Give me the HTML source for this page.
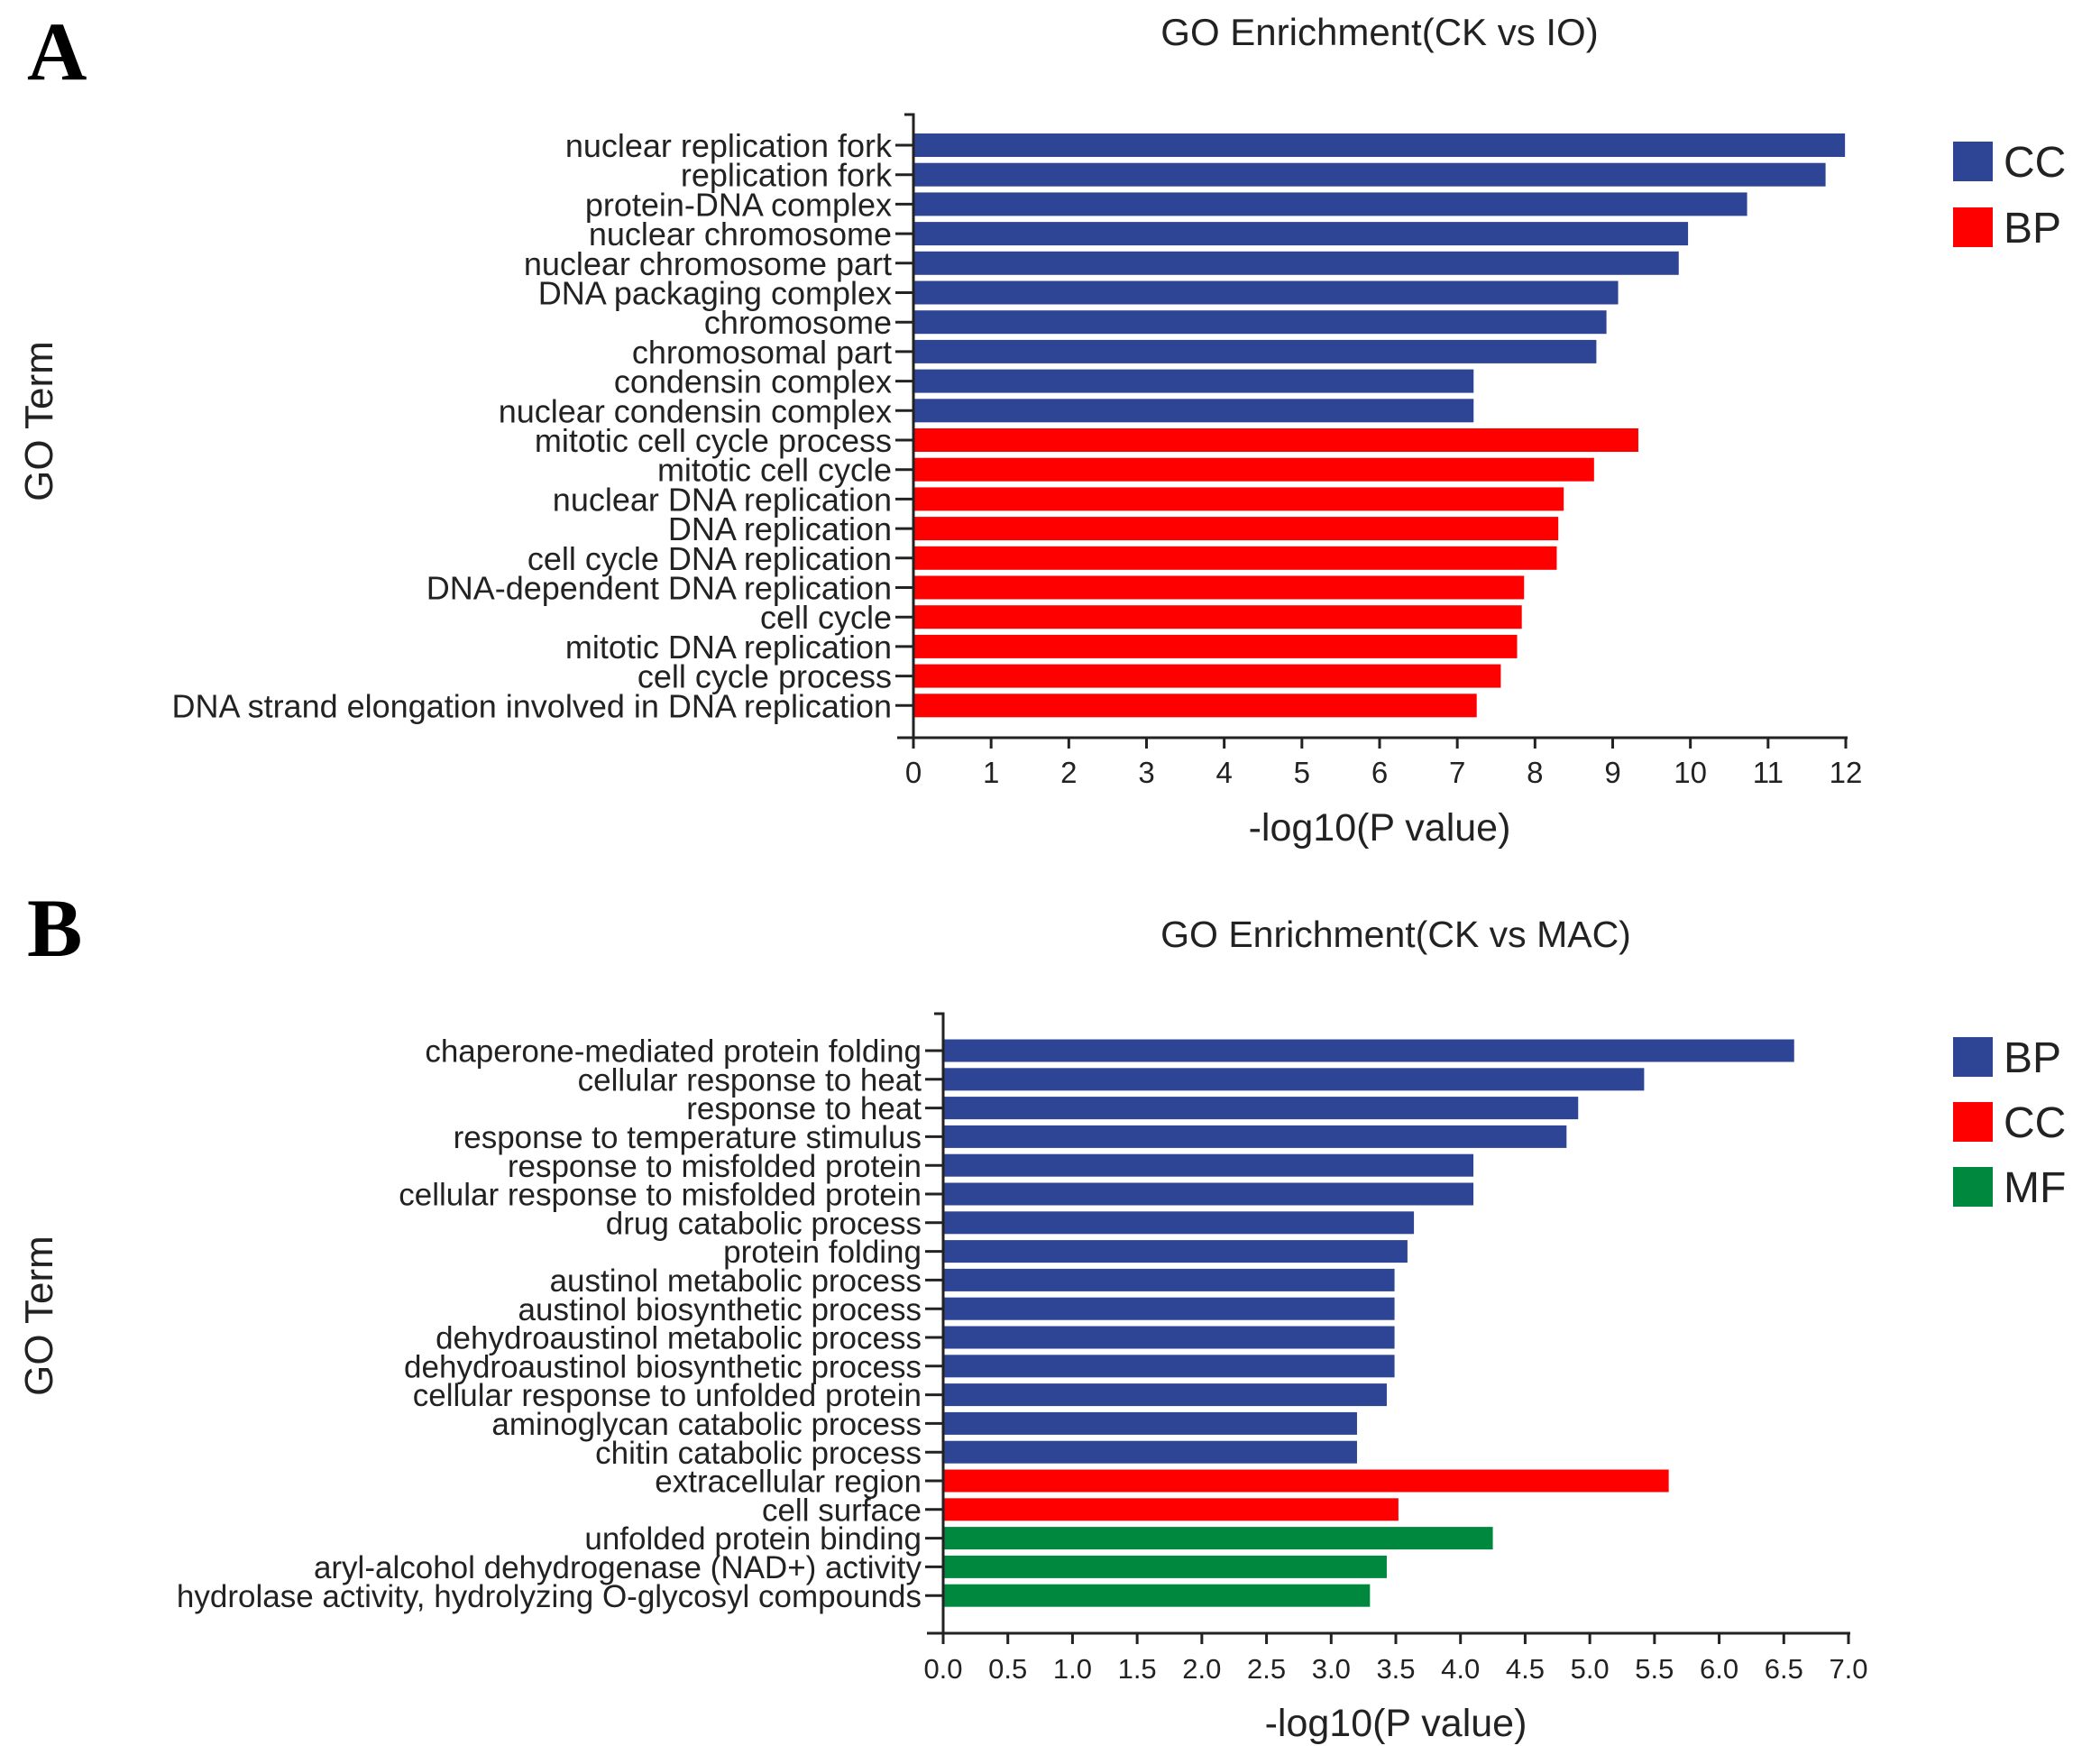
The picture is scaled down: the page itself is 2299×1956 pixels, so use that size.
<!DOCTYPE html>
<html><head><meta charset="utf-8"><style>
html,body{margin:0;padding:0;background:#fff;}
svg{display:block;}
text{font-family:"Liberation Sans",Arial,sans-serif;fill:#222;}
</style></head><body>
<svg id="fig" width="2299" height="1956" viewBox="0 0 2299 1956" xmlns="http://www.w3.org/2000/svg">
<text x="30" y="88" style="font-family:'Liberation Serif',serif;font-weight:bold;font-size:92px;fill:#000">A</text>
<text x="30" y="1060" style="font-family:'Liberation Serif',serif;font-weight:bold;font-size:92px;fill:#000">B</text>
<g id="panelA"></g>
<g id="panelB"></g>
</svg>
<script>
const catsA = ["nuclear replication fork","replication fork","protein-DNA complex","nuclear chromosome","nuclear chromosome part","DNA packaging complex","chromosome","chromosomal part","condensin complex","nuclear condensin complex","mitotic cell cycle process","mitotic cell cycle","nuclear DNA replication","DNA replication","cell cycle DNA replication","DNA-dependent DNA replication","cell cycle","mitotic DNA replication","cell cycle process","DNA strand elongation involved in DNA replication"];
const valsA = [11.99,11.74,10.73,9.97,9.85,9.07,8.92,8.79,7.21,7.21,9.33,8.76,8.37,8.30,8.28,7.86,7.83,7.77,7.56,7.25];
const groupsA = ["CC","CC","CC","CC","CC","CC","CC","CC","CC","CC","BP","BP","BP","BP","BP","BP","BP","BP","BP","BP"];
const ticksA = ["0","1","2","3","4","5","6","7","8","9","10","11","12"];
const legendA = ["CC","BP"];

const catsB = ["chaperone-mediated protein folding","cellular response to heat","response to heat","response to temperature stimulus","response to misfolded protein","cellular response to misfolded protein","drug catabolic process","protein folding","austinol metabolic process","austinol biosynthetic process","dehydroaustinol metabolic process","dehydroaustinol biosynthetic process","cellular response to unfolded protein","aminoglycan catabolic process","chitin catabolic process","extracellular region","cell surface","unfolded protein binding","aryl-alcohol dehydrogenase (NAD+) activity","hydrolase activity, hydrolyzing O-glycosyl compounds"];
const valsB = [6.58,5.42,4.91,4.82,4.10,4.10,3.64,3.59,3.49,3.49,3.49,3.49,3.43,3.20,3.20,5.61,3.52,4.25,3.43,3.30];
const groupsB = ["BP","BP","BP","BP","BP","BP","BP","BP","BP","BP","BP","BP","BP","BP","BP","CC","CC","MF","MF","MF"];
const ticksB = ["0.0","0.5","1.0","1.5","2.0","2.5","3.0","3.5","4.0","4.5","5.0","5.5","6.0","6.5","7.0"];
const legendB = ["BP","CC","MF"];

const NS="http://www.w3.org/2000/svg";
function mk(parent,tag,attrs,txt){const e=document.createElementNS(NS,tag);for(const k in attrs)e.setAttribute(k,attrs[k]);if(txt!==undefined)e.textContent=txt;parent.appendChild(e);return e;}

function drawPanel(g,cfg){
  const {cats,vals,groups,ticks,legend,colors,x0,x1,xmax,yTop,y1,yStep,barH,axisY,title,titleX,titleY,titleSize,labelSize,tickSize,legX,legY,legStep,goX,goY,xTitleY} = cfg;
  const sx=v=>x0+(x1-x0)*v/xmax;
  const sy=i=>y1+i*yStep;
  let t=mk(g,'text',{x:titleX,y:titleY,'text-anchor':'middle','font-size':titleSize});
  t.textContent=title;
  
  
  for(let i=0;i<cats.length;i++){
    const r=mk(g,'rect',{x:x0,y:sy(i)-barH/2,width:sx(vals[i])-x0,height:barH,fill:colors[groups[i]]});
    
    
    const tk=mk(g,'line',{x1:x0-20,x2:x0,y1:sy(i),y2:sy(i),stroke:'#222','stroke-width':3});
    
    
    const l=mk(g,'text',{x:x0-24,y:sy(i)+labelSize*0.36,'text-anchor':'end','font-size':labelSize},cats[i]);
    
    
  }
  const ya=mk(g,'path',{d:`M${x0-10} ${yTop} H${x0} V${axisY}`,stroke:'#222','stroke-width':3,fill:'none'});
  
  
  const xa=mk(g,'line',{x1:x0-18,x2:x1+2,y1:axisY,y2:axisY,stroke:'#222','stroke-width':3});
  
  
  for(let k=0;k<ticks.length;k++){
    const v=parseFloat(ticks[k]);
    const tk=mk(g,'line',{x1:sx(v),x2:sx(v),y1:axisY,y2:axisY+12,stroke:'#222','stroke-width':3});
    
    
    const tl=mk(g,'text',{x:sx(v),y:axisY+50,'text-anchor':'middle','font-size':tickSize},ticks[k]);
    
    
  }
  const xt=mk(g,'text',{x:(x0+x1)/2,y:xTitleY,'text-anchor':'middle','font-size':43},'-log10(P value)');
  
  
  const yt=mk(g,'text',{x:goX,y:goY,'text-anchor':'middle','font-size':44,transform:`rotate(-90 ${goX} ${goY})`},'GO Term');
  
  
  for(let k=0;k<legend.length;k++){
    const y=legY+k*legStep;
    const s=mk(g,'rect',{x:legX,y:y,width:44,height:44,fill:colors[legend[k]]});
    
    
    const lt=mk(g,'text',{x:legX+56,y:y+39,'font-size':48},legend[k]);
    
    
  }
}
const blue="#2e4596",red="#ff0000",green="#00893e";
drawPanel(document.getElementById('panelA'),{cats:catsA,vals:valsA,groups:groupsA,ticks:ticksA,legend:legendA,
  colors:{CC:blue,BP:red},x0:1013,x1:2047,xmax:12,yTop:127,y1:161,yStep:32.7,barH:26,axisY:818,
  title:"GO Enrichment(CK vs IO)",titleX:1530,titleY:50,titleSize:42,labelSize:36,tickSize:33,legX:2166,legY:157,legStep:73,goX:58,goY:467,xTitleY:932});
drawPanel(document.getElementById('panelB'),{cats:catsB,vals:valsB,groups:groupsB,ticks:ticksB,legend:legendB,
  colors:{BP:blue,CC:red,MF:green},x0:1046,x1:2050,xmax:7,yTop:1124,y1:1165,yStep:31.8,barH:25,axisY:1811,
  title:"GO Enrichment(CK vs MAC)",titleX:1548,titleY:1050,titleSize:41,labelSize:35,tickSize:31,legX:2166,legY:1150,legStep:72,goX:58,goY:1459,xTitleY:1925});
</script>
</body></html>
